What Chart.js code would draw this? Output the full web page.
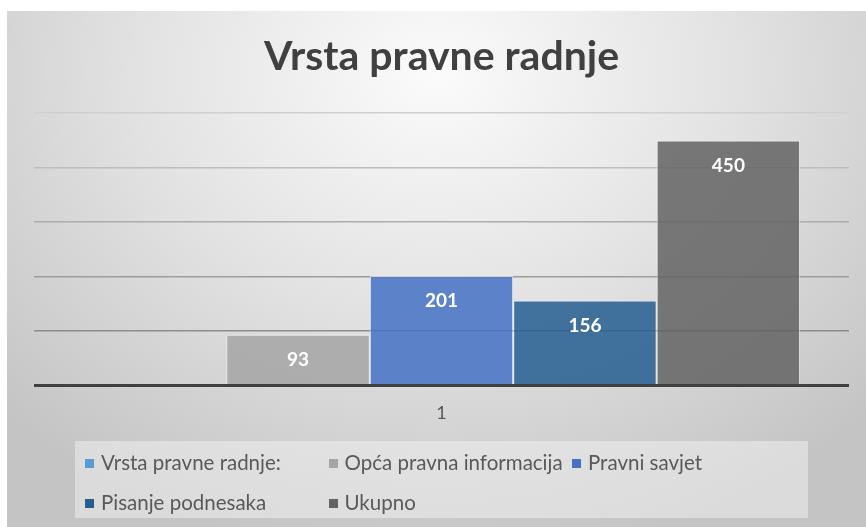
<!DOCTYPE html>
<html lang="hr">
<head>
<meta charset="utf-8">
<title>Vrsta pravne radnje</title>
<script src="https://cdn.jsdelivr.net/npm/chart.js@4/dist/chart.umd.min.js"></script>
<style>
  body { margin: 0; background: #fff; }
  #frame {
    position: absolute; left: 7px; top: 11px; width: 859px; height: 516px;
    background: radial-gradient(ellipse 70% 95% at 50% 12%, #fbfbfb 0%, #e2e2e2 50%, #c4c4c4 100%);
  }
  #legend {
    position: absolute; left: 68px; top: 430px; width: 733px; height: 77px;
    background: rgba(238,238,238,0.55);
    font-family: Lato, sans-serif; font-size: 20.5px; color: #595959;
  }
  .item { position: absolute; white-space: nowrap; line-height: 20px; }
  .item i { display: inline-block; width: 9px; height: 9px; margin-right: 7px; vertical-align: 2px; }
</style>
</head>
<body>
<div id="frame">
  <canvas id="mycanvas"></canvas>
  <div id="legend"></div>
</div>

<script>
// podaci
const categories = ["1"];
const seriesNames = ["Vrsta pravne radnje:", "Opća pravna informacija", "Pravni savjet", "Pisanje podnesaka", "Ukupno"];
const seriesValues = [0, 93, 201, 156, 450];
const seriesColors = ["#5B9BD5", "#A5A5A5", "#4472C4", "#255E91", "#636363"];
const yTicks = [0, 100, 200, 300, 400, 500];

function alpha(hex, a) {
  let r = parseInt(hex.slice(1,3),16), g = parseInt(hex.slice(3,5),16), b = parseInt(hex.slice(5,7),16);
  return "rgba("+r+","+g+","+b+","+a+")";
}

// vrijednosti unutar stupaca
const valueLabels = {
  id: 'valueLabels',
  afterDatasetsDraw(chart) {
    const ctx = chart.ctx;
    ctx.save();
    ctx.font = "bold 19px Lato";
    ctx.fillStyle = "#ffffff";
    ctx.textAlign = "center";
    ctx.textBaseline = "middle";
    chart.data.datasets.forEach((ds, i) => {
      chart.getDatasetMeta(i).data.forEach((bar, j) => {
        if (!ds.data[j]) return;
        ctx.fillText(ds.data[j], bar.x, bar.y + 25);
      });
    });
    ctx.restore();
  }
};

const ctx_live = document.getElementById("mycanvas");
const myChart = new Chart(ctx_live, {
  type: 'bar',
  data: {
    labels: categories,
    datasets: seriesNames.map((name, i) => ({
      label: name,
      data: [seriesValues[i]],
      backgroundColor: alpha(seriesColors[i], 0.85),
      borderColor: "rgba(255,255,255,0.55)",
      borderWidth: 1,
      categoryPercentage: 0.88,
      barPercentage: 1
    }))
  },
  options: {
    responsive: true,
    maintainAspectRatio: false,
    animation: false,
    layout: { padding: { left: 27, right: 17, top: 0, bottom: 86 } },
    scales: {
      x: {
        grid: { display: false, drawTicks: false },
        border: { display: false },
        ticks: { color: "#595959", font: { family: "Lato", size: 18 }, padding: 17 }
      },
      y: {
        min: yTicks[0],
        max: yTicks[yTicks.length - 1],
        afterBuildTicks: axis => { axis.ticks = yTicks.map(v => ({ value: v })); },
        ticks: { display: false },
        border: { display: false },
        grid: {
          drawTicks: false,
          color: c => c.tick.value === 0 ? "#404040" : ["#404040","#8c8c8c","#9c9c9c","#acacac","#bdbdbd","#cfcfcf"][c.index],
          lineWidth: c => c.tick.value === 0 ? 3 : 1.5
        }
      }
    },
    plugins: {
      legend: { display: false },
      tooltip: { enabled: false },
      title: {
        display: true,
        text: "Vrsta pravne radnje",
        color: "#404040",
        font: { family: "Lato", size: 41, weight: "bold" },
        padding: { top: 21, bottom: 32 }
      }
    }
  },
  plugins: [valueLabels]
});

// legenda (3 stupca)
const legend = document.getElementById("legend");
seriesNames.forEach((name, i) => {
  const el = document.createElement("div");
  el.className = "item";
  el.style.left = (10 + (i % 3) * 243.5) + "px";
  el.style.top = (11 + Math.floor(i / 3) * 40) + "px";
  el.innerHTML = '<i style="background:' + seriesColors[i] + '"></i>' + name;
  legend.appendChild(el);
});
</script>
</body>
</html>
